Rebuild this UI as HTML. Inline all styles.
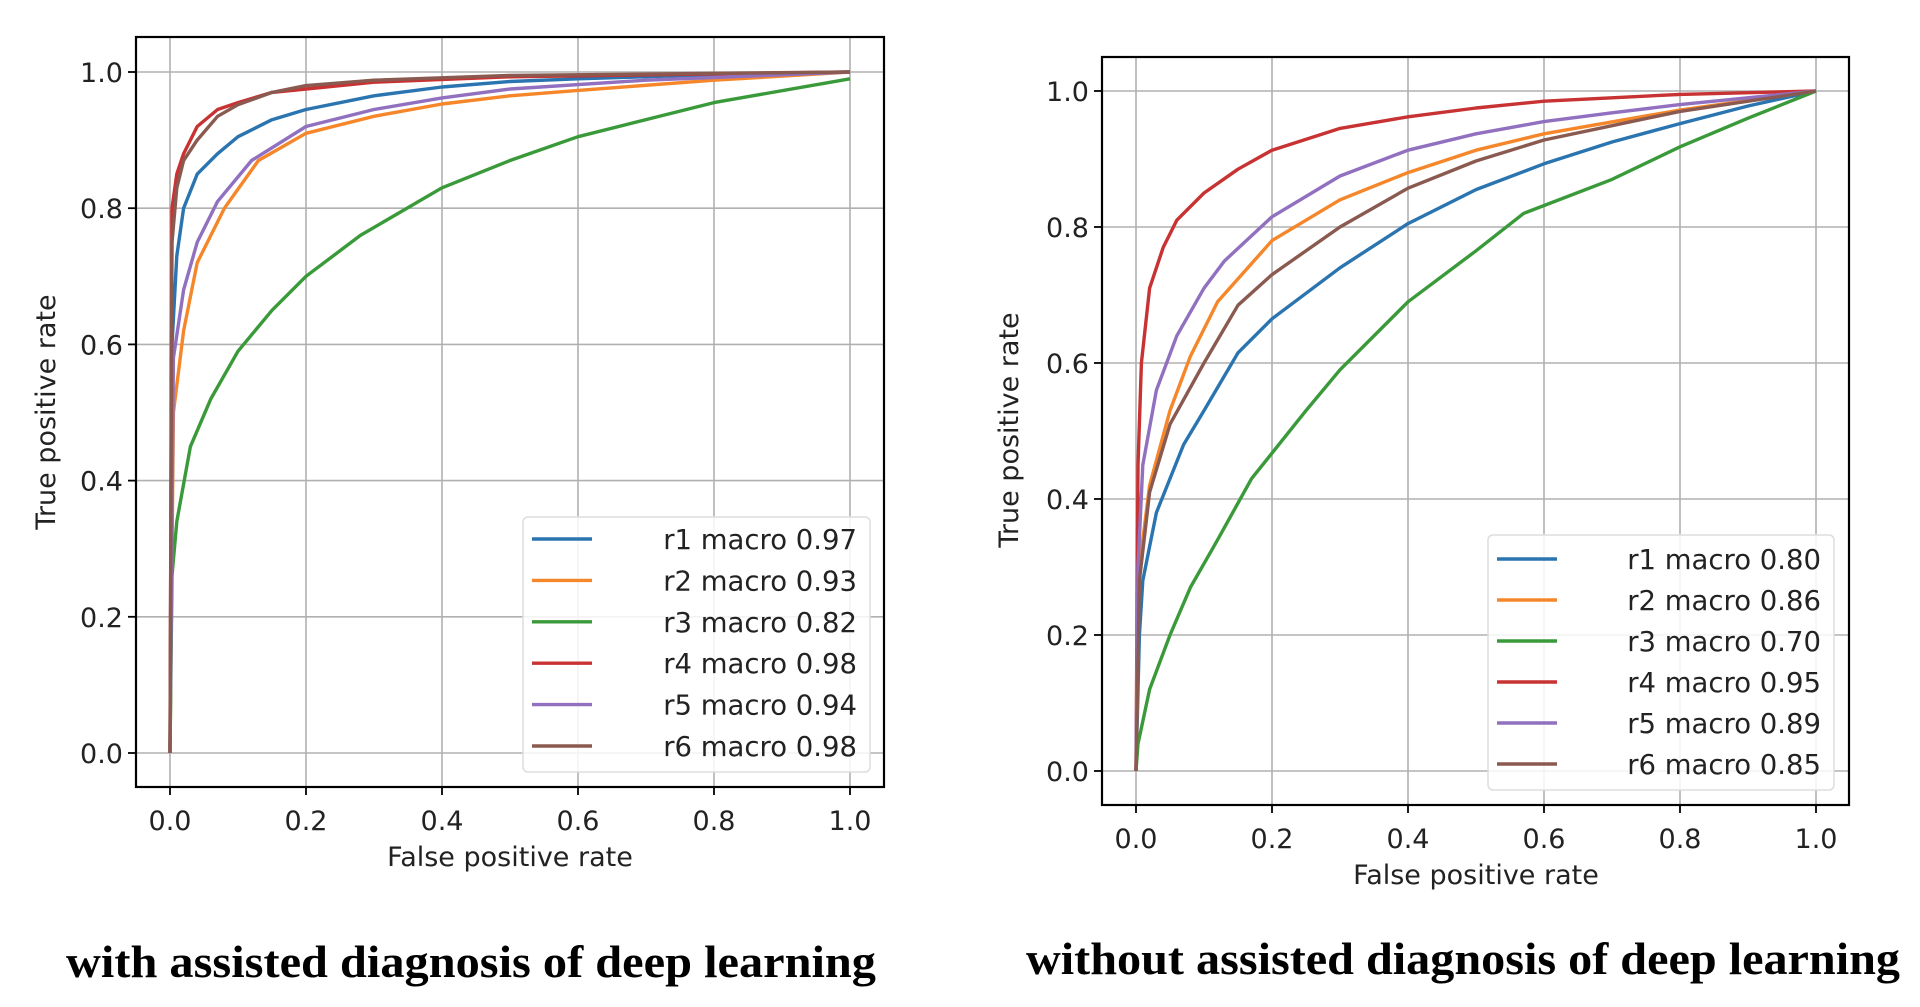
<!DOCTYPE html>
<html><head><meta charset="utf-8">
<style>
html,body{margin:0;padding:0;background:#fff;}
svg{display:block;}
text{font-family:"DejaVu Sans","Liberation Sans",sans-serif;fill:#222;}
.cap{font-family:"Liberation Serif",serif;font-weight:bold;fill:#000;}
</style></head>
<body>
<svg id="svg" width="1920" height="1007" viewBox="0 0 1920 1007" xmlns="http://www.w3.org/2000/svg">
<text class="cap" x="66" y="977" font-size="45" textLength="810" lengthAdjust="spacingAndGlyphs">with assisted diagnosis of deep learning</text>
<text class="cap" x="1026" y="974" font-size="45" textLength="874" lengthAdjust="spacingAndGlyphs">without assisted diagnosis of deep learning</text>
</svg>
<script>
const colors=["#2a74b0","#f5872a","#3a9a3a","#c83232","#9170c0","#8a5a50"];
const seriesNames=["r1","r2","r3","r4","r5","r6"];
const tickLabels=["0.0","0.2","0.4","0.6","0.8","1.0"];
const tickValues=[0,0.2,0.4,0.6,0.8,1.0];
const leftAuc=["0.97","0.93","0.82","0.98","0.94","0.98"];
const rightAuc=["0.80","0.86","0.70","0.95","0.89","0.85"];
// left chart series [fpr, tpr]
const L_r1=[[0,0],[0.003,0.6],[0.01,0.73],[0.02,0.8],[0.04,0.85],[0.07,0.88],[0.1,0.905],[0.15,0.93],[0.2,0.945],[0.3,0.965],[0.4,0.978],[0.5,0.986],[0.6,0.99],[0.8,0.996],[1,1]];
const L_r2=[[0,0],[0.005,0.5],[0.02,0.62],[0.04,0.72],[0.08,0.8],[0.13,0.87],[0.2,0.91],[0.3,0.935],[0.4,0.953],[0.5,0.965],[0.6,0.973],[0.8,0.988],[1,1]];
const L_r3=[[0,0],[0.003,0.26],[0.01,0.34],[0.03,0.45],[0.06,0.52],[0.1,0.59],[0.15,0.65],[0.2,0.7],[0.28,0.76],[0.4,0.83],[0.5,0.87],[0.6,0.905],[0.8,0.955],[1,0.99]];
const L_r4=[[0,0],[0.003,0.8],[0.01,0.85],[0.02,0.88],[0.04,0.92],[0.07,0.945],[0.1,0.955],[0.15,0.97],[0.2,0.975],[0.3,0.985],[0.5,0.993],[1,1]];
const L_r5=[[0,0],[0.005,0.58],[0.02,0.68],[0.04,0.75],[0.07,0.81],[0.12,0.87],[0.2,0.92],[0.3,0.945],[0.4,0.962],[0.5,0.975],[0.7,0.988],[1,1]];
const L_r6=[[0,0],[0.003,0.75],[0.01,0.83],[0.02,0.87],[0.04,0.9],[0.07,0.935],[0.1,0.952],[0.15,0.97],[0.2,0.98],[0.3,0.988],[0.5,0.995],[1,1]];
// right chart series
const R_r1=[[0,0],[0.005,0.2],[0.01,0.28],[0.03,0.38],[0.07,0.48],[0.1,0.53],[0.15,0.615],[0.2,0.665],[0.3,0.74],[0.4,0.805],[0.5,0.855],[0.6,0.893],[0.7,0.925],[0.8,0.952],[0.9,0.978],[1,1]];
const R_r2=[[0,0],[0.005,0.3],[0.02,0.42],[0.05,0.53],[0.08,0.61],[0.12,0.69],[0.2,0.78],[0.3,0.84],[0.4,0.88],[0.5,0.913],[0.6,0.937],[0.8,0.972],[1,1]];
const R_r3=[[0,0],[0.003,0.04],[0.02,0.12],[0.05,0.2],[0.08,0.27],[0.12,0.34],[0.17,0.43],[0.25,0.53],[0.3,0.59],[0.4,0.69],[0.5,0.765],[0.57,0.82],[0.7,0.87],[0.8,0.918],[0.9,0.96],[1,1]];
const R_r4=[[0,0],[0.003,0.45],[0.008,0.6],[0.02,0.71],[0.04,0.77],[0.06,0.81],[0.1,0.85],[0.15,0.885],[0.2,0.913],[0.3,0.945],[0.4,0.962],[0.5,0.975],[0.6,0.985],[0.7,0.99],[0.8,0.995],[1,1]];
const R_r5=[[0,0],[0.003,0.3],[0.01,0.45],[0.03,0.56],[0.06,0.64],[0.1,0.71],[0.13,0.75],[0.2,0.815],[0.3,0.875],[0.4,0.913],[0.5,0.937],[0.6,0.955],[0.7,0.968],[0.8,0.98],[1,1]];
const R_r6=[[0,0],[0.005,0.28],[0.02,0.41],[0.05,0.51],[0.1,0.6],[0.15,0.685],[0.2,0.73],[0.3,0.8],[0.4,0.857],[0.5,0.897],[0.6,0.928],[0.8,0.97],[1,1]];

const NS="http://www.w3.org/2000/svg";
const svg=document.getElementById('svg');
function mk(tag,attrs,parent){const e=document.createElementNS(NS,tag);for(const k in attrs)e.setAttribute(k,attrs[k]);(parent||svg).appendChild(e);return e;}

function chart(cfg){
  const g=mk('g',{});
  
  
  const sx=v=>cfg.x0+v*(cfg.x1-cfg.x0);
  const sy=v=>cfg.y0+v*(cfg.y1-cfg.y0);
  tickValues.forEach((v,i)=>{
    const gx=mk('line',{x1:sx(v),x2:sx(v),y1:cfg.top,y2:cfg.bottom,stroke:'#b0b0b0','stroke-width':1.6},g);
    
    
    const gy=mk('line',{x1:cfg.left,x2:cfg.right,y1:sy(v),y2:sy(v),stroke:'#b0b0b0','stroke-width':1.6},g);
    
    
    const tx=mk('line',{x1:sx(v),x2:sx(v),y1:cfg.bottom,y2:cfg.bottom+8,stroke:'#000','stroke-width':1.8},g);
    
    
    const ty=mk('line',{x1:cfg.left-8,x2:cfg.left,y1:sy(v),y2:sy(v),stroke:'#000','stroke-width':1.8},g);
    
    
    const lx=mk('text',{x:sx(v),y:cfg.bottom+43,'font-size':27,'text-anchor':'middle'},g);
    lx.textContent=tickLabels[i];
    
    
    const ly=mk('text',{x:cfg.left-13,y:sy(v)+10,'font-size':27,'text-anchor':'end'},g);
    ly.textContent=tickLabels[i];
    
    
  });
  cfg.series.forEach((s,i)=>{
    const d=s.map((p,j)=>(j?'L':'M')+sx(p[0]).toFixed(1)+','+sy(p[1]).toFixed(1)).join('');
    const p=mk('path',{d:d,fill:'none',stroke:colors[i],'stroke-width':3.4,'stroke-linejoin':'round'},g);
    
    
  });
  const fr=mk('rect',{x:cfg.left,y:cfg.top,width:cfg.right-cfg.left,height:cfg.bottom-cfg.top,fill:'none',stroke:'#000','stroke-width':2.2},g);
  
  
  const lg=mk('g',{},g);
  
  
  mk('rect',{x:cfg.lx,y:cfg.ly,width:cfg.lw,height:cfg.lh,rx:5,fill:'#fff','fill-opacity':0.85,stroke:'#ddd','stroke-width':1.5},lg);
  cfg.auc.forEach((a,i)=>{
    const yy=cfg.lr0+i*cfg.lrs;
    const ln=mk('line',{x1:cfg.lx+9,x2:cfg.lx+69,y1:yy,y2:yy,stroke:colors[i],'stroke-width':3.4},lg);
    
    
    const t=mk('text',{x:cfg.lx+cfg.lw-13,y:yy+10,'font-size':27.5,'text-anchor':'end'},lg);
    t.textContent=seriesNames[i]+' macro '+a;
    
    
  });
  const xt=mk('text',{x:(cfg.x0+cfg.x1)/2,y:cfg.xty,'font-size':27,'text-anchor':'middle'},g);
  xt.textContent='False positive rate';
  
  
  const yt=mk('text',{x:0,y:0,'font-size':27,'text-anchor':'middle',transform:'translate('+cfg.ytx+','+cfg.yty+') rotate(-90)'},g);
  yt.textContent='True positive rate';
  
  
}
chart({name:'left-roc-chart',left:136,right:884,top:37,bottom:787,x0:170,x1:850,y0:753,y1:72,
  series:[L_r1,L_r2,L_r3,L_r4,L_r5,L_r6],auc:leftAuc,
  lx:523,ly:517,lw:347,lh:255,lr0:539,lrs:41.4,xty:866,ytx:55,yty:412});
chart({name:'right-roc-chart',left:1102,right:1849,top:57,bottom:805,x0:1136,x1:1816,y0:771,y1:91,
  series:[R_r1,R_r2,R_r3,R_r4,R_r5,R_r6],auc:rightAuc,
  lx:1488,ly:535,lw:346,lh:255,lr0:559,lrs:41,xty:884,ytx:1018,yty:430});
</script>
</body></html>
